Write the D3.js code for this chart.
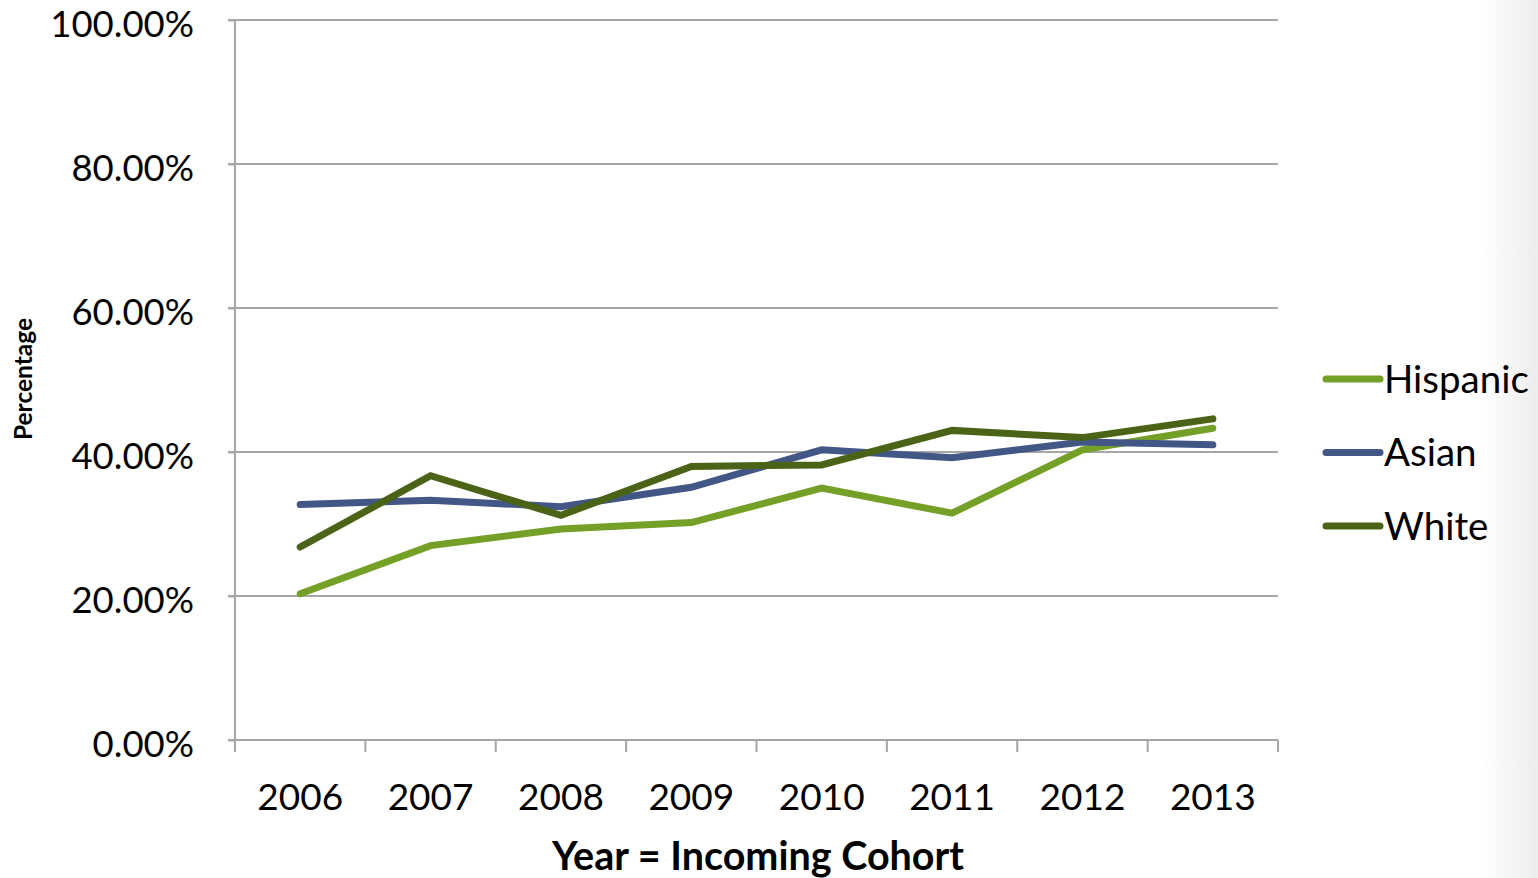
<!DOCTYPE html>
<html>
<head>
<meta charset="utf-8">
<script src="https://cdn.jsdelivr.net/npm/d3@7"></script>
<style>
  body { margin: 0; background: #fff; }
  svg text { font-family: Lato, "Open Sans", sans-serif; fill: #000; }
</style>
</head>
<body>
<div id="chart"></div>
<script>
// chart data
var years    = ['2006', '2007', '2008', '2009', '2010', '2011', '2012', '2013'];
var hispanic = [20.3, 27.0, 29.3, 30.2, 35.0, 31.5, 40.3, 43.3];
var asian    = [32.7, 33.3, 32.4, 35.1, 40.3, 39.2, 41.4, 41.0];
var white    = [26.8, 36.7, 31.2, 38.0, 38.2, 43.0, 42.0, 44.6];
var yTicks   = [0, 20, 40, 60, 80, 100];

var series = [
    { name : 'Hispanic', values : hispanic, color : '#75a027' },
    { name : 'Asian',    values : asian,    color : '#425786' },
    { name : 'White',    values : white,    color : '#4a6316' }
];

var W = 1538, H = 878;
var plotL = 235, plotR = 1278, plotT = 20, plotB = 740;

var svg = d3.select('#chart').append('svg')
    .attr('width', W)
    .attr('height', H);

// faint shading at the right edge
var grad = svg.append('defs').append('linearGradient')
    .attr('id', 'edge').attr('x1', 0).attr('x2', 1);
grad.append('stop').attr('offset', 0).attr('stop-color', '#fff');
grad.append('stop').attr('offset', 1).attr('stop-color', '#ededed');
svg.append('rect')
    .attr('x', 1480).attr('y', 0).attr('width', 58).attr('height', H)
    .attr('fill', 'url(#edge)');

var x = d3.scaleBand().domain(years).range([plotL, plotR]);
var y = d3.scaleLinear().domain([0, 100]).range([plotB, plotT]);

// horizontal gridlines
svg.append('g')
    .selectAll('line')
    .data(yTicks.filter(function(d) { return d > 0; }))
    .enter()
    .append('line')
    .attr('x1', plotL - 7).attr('x2', plotR)
    .attr('y1', function(d) { return y(d); })
    .attr('y2', function(d) { return y(d); })
    .attr('stroke', '#a6a6a6')
    .attr('stroke-width', 2);

// y axis
var yAxis = svg.append('g')
    .attr('transform', 'translate(' + plotL + ',0)')
    .call(d3.axisLeft(y).tickValues(yTicks).tickSize(7).tickPadding(34)
        .tickFormat(function(d) { return d.toFixed(2) + '%'; }));
yAxis.select('.domain').attr('stroke', '#a6a6a6').attr('stroke-width', 2)
    .attr('d', 'M0,' + plotT + 'V' + plotB);
yAxis.selectAll('.tick line').attr('stroke', '#a6a6a6').attr('stroke-width', 2);
yAxis.selectAll('.tick text')
    .attr('font-size', 36.5)
    .attr('dy', '0.44em')
    .style('font-family', 'Lato, sans-serif');

// x axis, ticks at category boundaries
var xAxis = svg.append('g')
    .attr('transform', 'translate(0,' + plotB + ')');
xAxis.append('line')
    .attr('x1', plotL - 7).attr('x2', plotR)
    .attr('stroke', '#a6a6a6').attr('stroke-width', 2);
xAxis.selectAll('line.tk')
    .data(years.concat(['end']))
    .enter()
    .append('line')
    .attr('class', 'tk')
    .attr('x1', function(d, i) { return plotL + i * x.step(); })
    .attr('x2', function(d, i) { return plotL + i * x.step(); })
    .attr('y1', 0).attr('y2', 12)
    .attr('stroke', '#a6a6a6').attr('stroke-width', 2);
xAxis.selectAll('text')
    .data(years)
    .enter()
    .append('text')
    .attr('x', function(d) { return x(d) + x.bandwidth() / 2; })
    .attr('y', 70)
    .attr('text-anchor', 'middle')
    .attr('font-size', 37)
    .text(function(d) { return d; });

// axis titles
svg.append('text')
    .attr('x', 758).attr('y', 870)
    .attr('text-anchor', 'middle')
    .attr('font-size', 39.5)
    .attr('font-weight', 'bold')
    .text('Year = Incoming Cohort');
svg.append('text')
    .attr('transform', 'translate(32,379) rotate(-90)')
    .attr('text-anchor', 'middle')
    .attr('font-size', 24.5)
    .attr('font-weight', 'bold')
    .text('Percentage');

// series lines
var line = d3.line()
    .x(function(d, i) { return x(years[i]) + x.bandwidth() / 2; })
    .y(function(d) { return y(d); });

svg.append('g')
    .selectAll('path')
    .data(series)
    .enter()
    .append('path')
    .attr('d', function(d) { return line(d.values); })
    .attr('fill', 'none')
    .attr('stroke', function(d) { return d.color; })
    .attr('stroke-width', 7)
    .attr('stroke-linecap', 'round')
    .attr('stroke-linejoin', 'miter');

// legend
var legend = svg.append('g')
    .selectAll('g')
    .data(series)
    .enter()
    .append('g')
    .attr('transform', function(d, i) { return 'translate(1326,' + (379 + i * 73.5) + ')'; });
legend.append('line')
    .attr('x1', 0).attr('x2', 54)
    .attr('stroke', function(d) { return d.color; })
    .attr('stroke-width', 7)
    .attr('stroke-linecap', 'round');
legend.append('text')
    .attr('x', 58)
    .attr('dy', '0.36em')
    .attr('font-size', 38.5)
    .text(function(d) { return d.name; });
</script>
</body>
</html>
